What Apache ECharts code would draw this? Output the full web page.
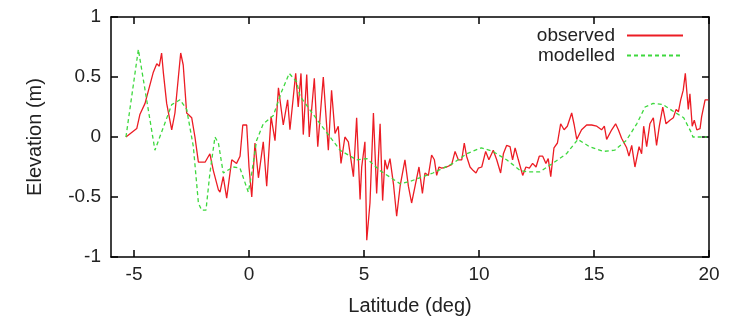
<!DOCTYPE html>
<html lang="en">
<head>
    <meta charset="UTF-8">
    <title>Elevation vs latitude</title>
    <script src="https://cdn.jsdelivr.net/npm/echarts@6.0.0/dist/echarts.min.js"></script>
    <style>
        html, body { margin: 0; padding: 0; background: #fff; }
    </style>
</head>
<body>
    <div id="main" style="width: 738px;height:328px;"></div>
    <script type="text/javascript">
        // observed elevation profile
        const obsLat = [-5.35, -4.88, -4.74, -4.52, -4.16, -4.01, -3.90, -3.80, -3.72, -3.58, -3.36, -3.22, -3.07, -2.97, -2.86, -2.71, -2.49, -2.35, -2.20, -1.91, -1.84, -1.70, -1.55, -1.33, -1.26, -1.12, -0.97, -0.75, -0.54, -0.39, -0.27, -0.10, 0.00, 0.12, 0.26, 0.41, 0.62, 0.77, 0.96, 1.13, 1.28, 1.49, 1.68, 1.78, 1.93, 2.03, 2.14, 2.26, 2.36, 2.51, 2.62, 2.84, 2.99, 3.23, 3.45, 3.59, 3.74, 3.88, 4.00, 4.17, 4.32, 4.54, 4.68, 4.83, 4.90, 5.04, 5.12, 5.26, 5.41, 5.55, 5.70, 5.81, 5.91, 6.01, 6.13, 6.28, 6.42, 6.57, 6.78, 6.93, 7.07, 7.22, 7.39, 7.54, 7.65, 7.80, 7.94, 8.06, 8.16, 8.26, 8.38, 8.59, 8.81, 8.96, 9.10, 9.25, 9.36, 9.46, 9.61, 9.75, 9.87, 9.97, 10.12, 10.29, 10.43, 10.62, 10.77, 10.94, 11.06, 11.20, 11.35, 11.46, 11.57, 11.71, 11.90, 12.04, 12.19, 12.33, 12.48, 12.62, 12.77, 12.91, 13.01, 13.12, 13.26, 13.41, 13.55, 13.70, 13.84, 14.03, 14.14, 14.25, 14.46, 14.68, 14.90, 15.12, 15.33, 15.45, 15.55, 15.77, 15.94, 16.06, 16.20, 16.42, 16.52, 16.64, 16.78, 16.96, 17.07, 17.16, 17.29, 17.43, 17.58, 17.72, 17.84, 17.99, 18.13, 18.30, 18.45, 18.57, 18.67, 18.77, 18.88, 18.97, 19.10, 19.17, 19.27, 19.36, 19.47, 19.61, 19.68, 19.83, 19.97];
        const obsElev = [0.00, 0.07, 0.19, 0.28, 0.54, 0.61, 0.59, 0.70, 0.53, 0.28, 0.06, 0.20, 0.50, 0.70, 0.60, 0.20, 0.16, 0.00, -0.21, -0.21, -0.22, -0.14, -0.28, -0.44, -0.46, -0.33, -0.51, -0.19, -0.22, -0.16, 0.10, 0.10, -0.25, -0.50, -0.05, -0.34, -0.04, -0.41, 0.17, -0.03, 0.41, 0.10, 0.31, 0.06, 0.34, 0.53, 0.25, 0.53, 0.02, 0.52, 0.00, 0.49, -0.08, 0.50, -0.11, 0.39, 0.03, 0.09, -0.22, 0.00, -0.04, -0.33, 0.16, -0.52, -0.25, -0.04, -0.86, -0.55, 0.20, -0.47, 0.11, -0.53, -0.19, -0.27, -0.18, -0.39, -0.66, -0.41, -0.19, -0.41, -0.55, -0.41, -0.25, -0.47, -0.30, -0.32, -0.15, -0.19, -0.32, -0.25, -0.26, -0.25, -0.23, -0.12, -0.19, -0.19, -0.05, -0.16, -0.25, -0.28, -0.30, -0.26, -0.25, -0.12, -0.19, -0.11, -0.19, -0.30, -0.14, -0.07, -0.08, -0.19, -0.09, -0.19, -0.32, -0.25, -0.26, -0.22, -0.25, -0.16, -0.16, -0.22, -0.18, -0.33, -0.09, -0.05, 0.11, 0.06, 0.09, 0.20, 0.10, -0.02, 0.06, 0.10, 0.10, 0.09, 0.06, 0.09, -0.02, 0.06, 0.11, 0.06, -0.01, -0.09, -0.16, -0.07, -0.25, -0.08, -0.14, 0.09, -0.08, 0.11, 0.16, -0.07, 0.09, 0.25, 0.11, 0.14, 0.16, 0.23, 0.21, 0.31, 0.39, 0.53, 0.23, 0.36, 0.09, 0.14, 0.06, 0.07, 0.17, 0.31, 0.31];

        // modelled elevation profile
        const modLat = [-5.35, -4.81, -4.09, -3.36, -3.00, -2.71, -2.42, -2.20, -2.06, -1.87, -1.70, -1.48, -1.33, -1.12, -0.68, -0.39, -0.03, 0.12, 0.33, 0.62, 1.06, 1.42, 1.75, 2.07, 2.22, 3.09, 3.96, 4.68, 5.12, 5.70, 6.57, 7.00, 8.00, 8.87, 9.46, 10.10, 10.60, 11.20, 11.80, 12.07, 12.65, 13.20, 13.80, 14.30, 14.80, 15.40, 15.90, 16.40, 16.86, 17.22, 17.57, 18.00, 18.40, 18.90, 19.25, 19.30, 19.90];
        const modElev = [0.00, 0.73, -0.11, 0.27, 0.31, 0.23, -0.08, -0.55, -0.61, -0.61, -0.30, 0.00, -0.05, -0.30, -0.25, -0.26, -0.46, -0.30, -0.03, 0.11, 0.18, 0.38, 0.53, 0.46, 0.34, 0.11, -0.11, -0.19, -0.18, -0.28, -0.39, -0.37, -0.30, -0.22, -0.14, -0.09, -0.12, -0.19, -0.28, -0.29, -0.29, -0.22, -0.14, -0.02, -0.08, -0.12, -0.11, -0.03, 0.11, 0.25, 0.28, 0.27, 0.22, 0.16, 0.03, 0.00, 0.00];

        const latTicks = [-5, 0, 5, 10, 15, 20];

        const font = "'Liberation Sans', Arial, sans-serif";
        const obsData = obsLat.map((x, i) => [x, obsElev[i]]);
        const modData = modLat.map((x, i) => [x, modElev[i]]);

        // ticks point into the plot on all four sides, like gnuplot's mirrored frame
        function ticks(extra) {
            return Object.assign({ show: true, inside: true, length: 7, lineStyle: { color: '#000', width: 1.5 } }, extra);
        }
        function frameLine() {
            return { show: true, onZero: false, lineStyle: { color: '#000', width: 1.5 } };
        }
        const legendBase = {
            right: 49, itemWidth: 56, itemHeight: 12, align: 'right',
            itemStyle: { opacity: 0 },
            textStyle: { fontFamily: font, fontSize: 19, color: '#222', padding: [0, 7, 0, 0] }
        };

        let options = {
            animation: false,
            backgroundColor: '#fff',
            grid: { left: 111, right: 29, top: 17, bottom: 71 },
            legend: [
                Object.assign({ top: 21, data: ['observed'] }, legendBase),
                Object.assign({ top: 41, data: ['modelled'] }, legendBase)
            ],
            xAxis: [{
                type: 'value', min: -6, max: 20, position: 'bottom',
                name: 'Latitude (deg)', nameLocation: 'middle', nameGap: 39,
                nameTextStyle: { fontFamily: font, fontSize: 20, color: '#222' },
                axisLine: frameLine(),
                axisTick: ticks({ customValues: latTicks }),
                axisLabel: { customValues: latTicks, fontFamily: font, fontSize: 19, color: '#222', margin: 8 },
                splitLine: { show: false }
            }, {
                type: 'value', min: -6, max: 20, position: 'top',
                axisLine: frameLine(),
                axisTick: ticks({ customValues: latTicks }),
                axisLabel: { show: false },
                splitLine: { show: false }
            }],
            yAxis: [{
                type: 'value', min: -1, max: 1, interval: 0.5, position: 'left',
                name: 'Elevation (m)', nameLocation: 'middle', nameGap: 66,
                nameTextStyle: { fontFamily: font, fontSize: 20, color: '#222' },
                axisLine: frameLine(),
                axisTick: ticks({}),
                axisLabel: { fontFamily: font, fontSize: 19, color: '#222', margin: 10 },
                splitLine: { show: false }
            }, {
                type: 'value', min: -1, max: 1, interval: 0.5, position: 'right',
                axisLine: frameLine(),
                axisTick: ticks({}),
                axisLabel: { show: false },
                splitLine: { show: false }
            }],
            series: [{
                name: 'observed',
                type: 'line',
                data: obsData,
                symbol: 'none',
                lineStyle: { color: '#ec1c24', width: 1.3 },
                itemStyle: { color: '#ec1c24' }
            }, {
                name: 'modelled',
                type: 'line',
                data: modData,
                symbol: 'none',
                lineStyle: { color: '#3ed83e', width: 1.3, type: [4, 3] },
                itemStyle: { color: '#3ed83e' }
            }]
        };

        let myChart = echarts.init(document.getElementById('main'));
        myChart.setOption(options);
    </script>
</body>
</html>
